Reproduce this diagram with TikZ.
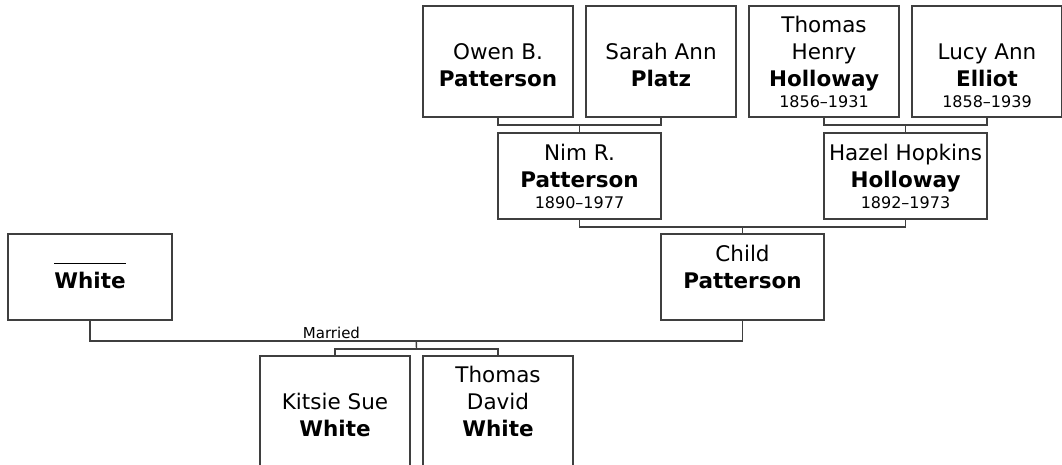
\documentclass[tikz,border=0pt]{standalone}
\usepackage{fontspec}
\setmainfont{DejaVu Sans}
\usetikzlibrary{positioning, calc}
\definecolor{lineaGris}{HTML}{3F3F3F}
\newcommand{\yrs}[1]{\\[-6.5pt]{\fontsize{16}{20}\selectfont\rule[-2pt]{0pt}{16pt}#1}}

\begin{document}
\begin{tikzpicture}[
        x=1pt, y=-1pt,
        person/.style={draw=lineaGris, line width=1.4pt, fill=white, outer sep=0pt, inner sep=0pt,
            align=center, minimum width=150pt, font=\fontsize{21.5}{27}\selectfont},
        tall/.style={person, minimum height=111pt},
        short/.style={person, minimum width=163pt, minimum height=86pt},
        link/.style={draw=lineaGris, line width=1.4pt},
        note/.style={font=\fontsize{15}{18}\selectfont, inner sep=2pt}
    ]
        \useasboundingbox (0,0) rectangle (1062,464);

        \node[tall] (owen) at (498,61.5) {\strut\\Owen B.\\\textbf{Patterson}\yrs{}};
        \node[tall, right=13pt of owen] (sarah) {\strut\\Sarah Ann\\\textbf{Platz}\yrs{}};
        \node[tall, right=13pt of sarah] (thomasH) {\strut Thomas\\Henry\\\textbf{Holloway}\yrs{1856--1931}};
        \node[tall, right=13pt of thomasH] (lucy) {\strut\\Lucy Ann\\\textbf{Elliot}\yrs{1858--1939}};

        \node[short, anchor=north] (nim) at ($(owen.south)!.5!(sarah.south)+(0,16)$) {\strut Nim R.\\\textbf{Patterson}\yrs{1890--1977}};
        \node[short, anchor=north] (hazel) at ($(thomasH.south)!.5!(lucy.south)+(0,16)$) {\strut Hazel Hopkins\\\textbf{Holloway}\yrs{1892--1973}};

        \node[short, anchor=north] (child) at ($(nim.south)!.5!(hazel.south)+(0,15)$) {\strut Child\\\textbf{Patterson}\yrs{}};
        \node[short, minimum width=164pt] (white) at (90,277) {\strut\underline{\phantom{\textbf{White}}}\\\textbf{White}\yrs{}};

        \node[tall, anchor=north] (kitsie) at (335,356) {\strut\\Kitsie Sue\\\textbf{White}\yrs{}};
        \node[tall, right=13pt of kitsie] (thomasD) {\strut Thomas\\David\\\textbf{White}\yrs{}};

        \coordinate (pOS) at ($(owen.south)!.5!(sarah.south)+(0,8)$);
        \coordinate (pTL) at ($(thomasH.south)!.5!(lucy.south)+(0,8)$);
        \coordinate (pNH) at ($(nim.south)!.5!(hazel.south)+(0,8)$);
        \coordinate (wed) at ($(white.south)!.5!(child.south)+(0,21)$);
        \coordinate (kids) at ($(kitsie.north)!.5!(thomasD.north)+(0,-7)$);

        \draw[link] (owen.south) |- (pOS) -| (sarah.south);
        \draw[link] (pOS) -- (nim.north);
        \draw[link] (thomasH.south) |- (pTL) -| (lucy.south);
        \draw[link] (pTL) -- (hazel.north);
        \draw[link] (nim.south) |- (pNH) -| (hazel.south);
        \draw[link] (pNH) -- (child.north);
        \draw[link] (white.south) |- node[note, pos=.87, above]{Married} (wed) -| (child.south);
        \draw[link] (wed) -- (kids);
        \draw[link] (kitsie.north) |- (kids) -| (thomasD.north);
    \end{tikzpicture}
\end{document}
